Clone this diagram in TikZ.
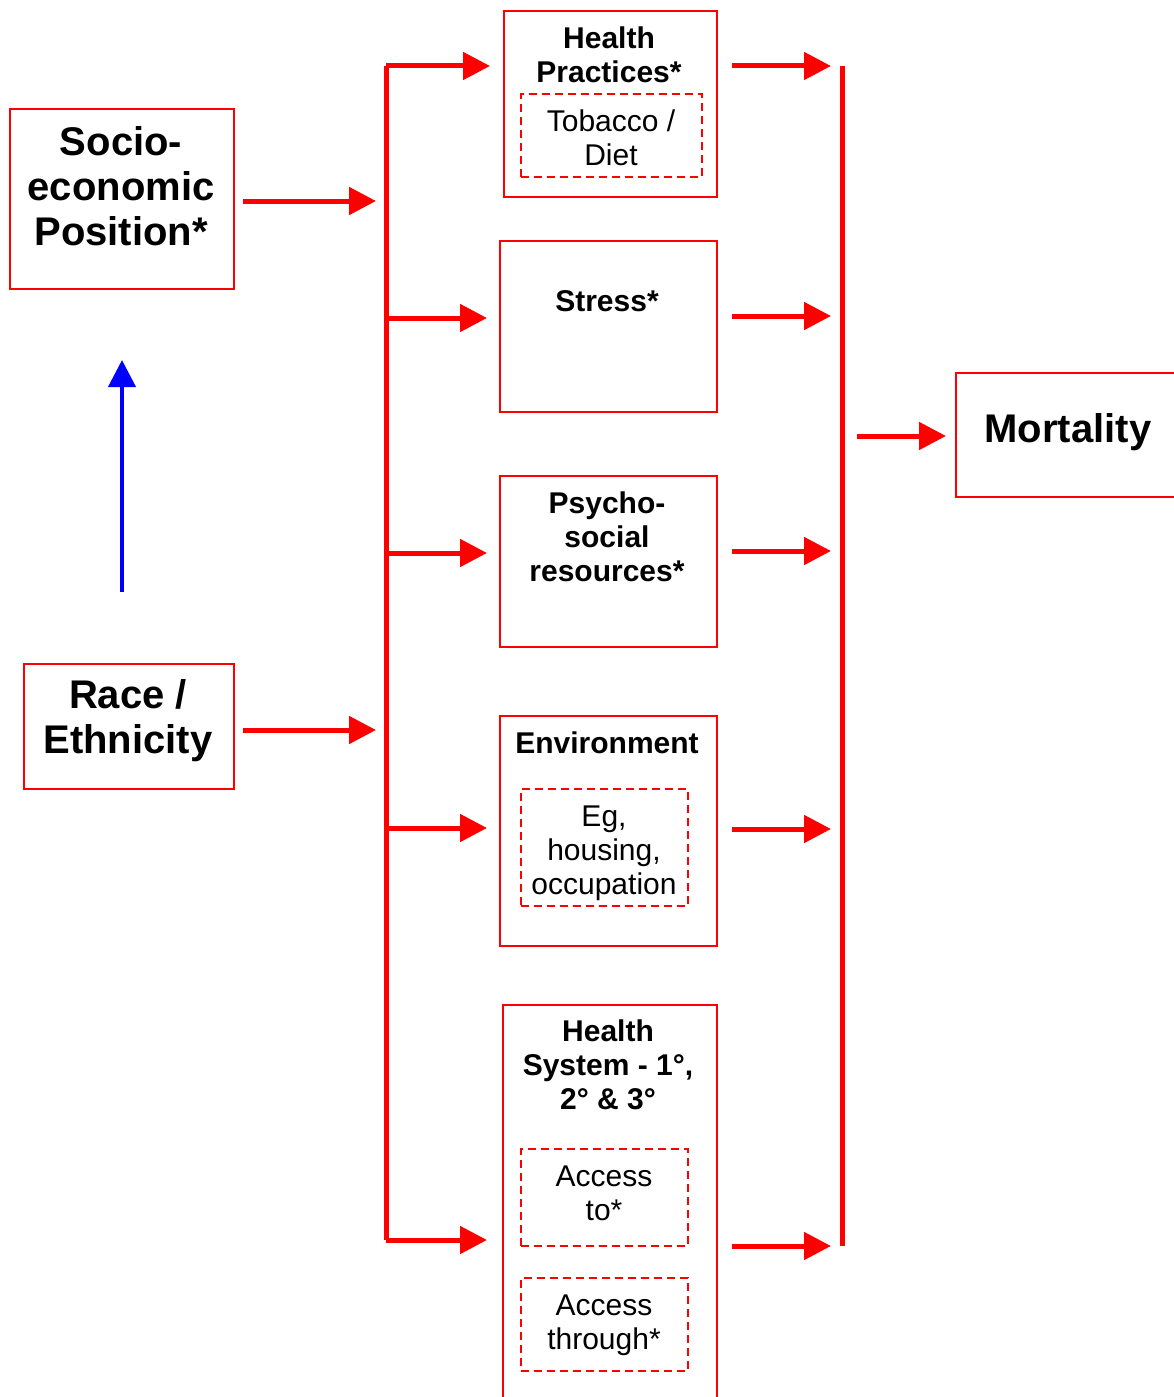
\documentclass[tikz,border=0pt]{standalone}
\usepackage{fontspec}
\setmainfont{Liberation Sans}
\usepackage{tikz}
\usetikzlibrary{calc, arrows.meta}

\begin{document}
\begin{tikzpicture}[x=1pt,y=-1pt]
            \tikzstyle{redbox}=[draw=red, line width=2pt, inner sep=0pt, anchor=north west]
            \tikzstyle{dashbox}=[draw=red, line width=2pt, dash pattern=on 8pt off 5pt, inner sep=0pt]
            \tikzstyle{bigtxt}=[align=center, font=\bfseries\fontsize{40}{45}\selectfont]
            \tikzstyle{midtxt}=[align=center, font=\bfseries\fontsize{30}{34}\selectfont]
            \tikzstyle{plaintxt}=[align=center, font=\fontsize{30}{34}\selectfont]
            \tikzstyle{redarrow}=[red, line width=5pt, -{Triangle[length=27pt,width=27pt]}]
            \tikzstyle{bluearrow}=[blue, line width=4pt, -{Triangle[length=27pt,width=27pt]}]

            \useasboundingbox (0,0) rectangle (1174,1397);

            %%%%%%%%%%%%%%%%%%%%%%%%%%%%%%%%%%%%%%%%
            \node at (9,108) (sep) [redbox, minimum width=224pt, minimum height=180pt] {};
            \node at (121,186) (sepTxt) [bigtxt] {Socio-\\economic\\Position*};

            \node at (23,663) (race) [redbox, minimum width=210pt, minimum height=125pt] {};
            \node at (128,721) (raceTxt) [bigtxt] {Race /\\Ethnicity};

            \draw[bluearrow, shorten <=71pt, shorten >=70pt] (sep.south |- race.north) -- (sep.south);

            %%%%%%%%%%%%%%%%%%%%%%%%%%%%%%%%%%%%%%%%
            \node at (503,10) (hp) [redbox, minimum width=213pt, minimum height=186pt] {};
            \node at (609,55) (hpTxt) [midtxt] {Health\\Practices*};
            \node at (611,135) (tob) [dashbox, minimum width=181pt, minimum height=83pt] {};
            \node at (611,138) (tobTxt) [plaintxt] {Tobacco /\\Diet};

            \node at (499,240) (stress) [redbox, minimum width=217pt, minimum height=171pt] {};
            \node at (607,301) (stressTxt) [midtxt] {Stress*};

            \node at (499,475) (psy) [redbox, minimum width=217pt, minimum height=171pt] {};
            \node at (607,537) (psyTxt) [midtxt] {Psycho-\\social\\resources*};

            \node at (499,715) (env) [redbox, minimum width=217pt, minimum height=230pt] {};
            \node at (607,743) (envTxt) [midtxt] {Environment};
            \node at (604,847) (eg) [dashbox, minimum width=167pt, minimum height=117pt] {};
            \node at (604,853) (egTxt) [plaintxt] {Eg,\\housing,\\occupation};

            \node at (502,1004) (hs) [redbox, minimum width=214pt, minimum height=410pt] {};
            \node at (608,1065) (hsTxt) [midtxt] {Health\\System - 1°,\\2° \& 3°};
            \node at (604,1197) (accTo) [dashbox, minimum width=167pt, minimum height=97pt] {};
            \node at (604,1193) (accToTxt) [plaintxt] {Access\\to*};
            \node at (604,1324) (accThr) [dashbox, minimum width=167pt, minimum height=93pt] {};
            \node at (604,1325) (accThrTxt) [plaintxt] {Access\\through*};

            \node at (955,372) (mort) [redbox, minimum width=240pt, minimum height=124pt] {};
            \node at (1068,432) (mortTxt) [bigtxt] {Mortality};

            %%%%%%%%%%%%%%%%%%%%%%%%%%%%%%%%%%%%%%%%
            \coordinate (lbTop) at (386,66);
            \coordinate (lbSep) at (386,201);
            \coordinate (lbStress) at (386,318);
            \coordinate (lbPsy) at (386,553);
            \coordinate (lbRace) at (386,730);
            \coordinate (lbEnv) at (386,828);
            \coordinate (lbBot) at (386,1240);

            \draw[red, line width=5pt] (lbTop) -- (lbBot);
            \draw[redarrow, shorten <=8pt, shorten >=10pt] (sep.east |- lbSep) -- (lbSep);
            \draw[redarrow, shorten <=8pt, shorten >=10pt] (race.east |- lbRace) -- (lbRace);

            \draw[redarrow, shorten >=13pt] (lbTop) -- (lbTop -| hp.west);
            \draw[redarrow, shorten >=12pt] (lbStress) -- (lbStress -| stress.west);
            \draw[redarrow, shorten >=12pt] (lbPsy) -- (lbPsy -| psy.west);
            \draw[redarrow, shorten >=12pt] (lbEnv) -- (lbEnv -| env.west);
            \draw[redarrow, shorten >=15pt] (lbBot) -- (lbBot -| hs.west);

            %%%%%%%%%%%%%%%%%%%%%%%%%%%%%%%%%%%%%%%%
            \coordinate (rbTop) at (842,66);
            \coordinate (rbStress) at (842,316);
            \coordinate (rbMid) at (842,436);
            \coordinate (rbPsy) at (842,551);
            \coordinate (rbEnv) at (842,829);
            \coordinate (rbBot) at (842,1246);

            \draw[red, line width=5pt] (rbTop) -- (rbBot);
            \draw[redarrow, shorten <=14pt, shorten >=11pt] (hp.east |- rbTop) -- (rbTop);
            \draw[redarrow, shorten <=14pt, shorten >=11pt] (stress.east |- rbStress) -- (rbStress);
            \draw[redarrow, shorten <=14pt, shorten >=11pt] (psy.east |- rbPsy) -- (rbPsy);
            \draw[redarrow, shorten <=14pt, shorten >=11pt] (env.east |- rbEnv) -- (rbEnv);
            \draw[redarrow, shorten <=14pt, shorten >=11pt] (hs.east |- rbBot) -- (rbBot);
            \draw[redarrow, shorten <=15pt, shorten >=9pt] (rbMid) -- (mort.west |- rbMid);
\end{tikzpicture}
\end{document}
